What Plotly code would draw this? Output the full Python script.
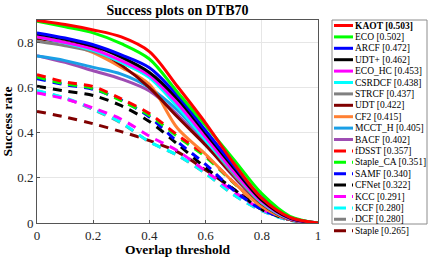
import plotly.graph_objects as go

thresholds = [0, 0.1, 0.2, 0.3, 0.4, 0.5, 0.6, 0.7, 0.8, 0.9, 1.0]

names = ["KAOT [0.503]", "ECO [0.502]", "ARCF [0.472]", "UDT+ [0.462]", "ECO_HC [0.453]",
         "CSRDCF [0.438]", "STRCF [0.437]", "UDT [0.422]", "CF2 [0.415]", "MCCT_H [0.405]",
         "BACF [0.402]", "fDSST [0.357]", "Staple_CA [0.351]", "SAMF [0.340]", "CFNet [0.322]",
         "KCC [0.291]", "KCF [0.280]", "DCF [0.280]", "Staple [0.265]"]

KAOT = [0.898, 0.880, 0.856, 0.825, 0.760, 0.605, 0.443, 0.265, 0.110, 0.025, 0.0]
ECO = [0.895, 0.870, 0.843, 0.795, 0.727, 0.580, 0.432, 0.282, 0.130, 0.030, 0.0]
ARCF = [0.843, 0.820, 0.790, 0.745, 0.688, 0.565, 0.410, 0.255, 0.112, 0.025, 0.0]
UDTp = [0.838, 0.815, 0.785, 0.735, 0.667, 0.550, 0.398, 0.245, 0.102, 0.022, 0.0]
ECO_HC = [0.826, 0.800, 0.770, 0.720, 0.655, 0.530, 0.380, 0.228, 0.095, 0.020, 0.0]
CSRDCF = [0.826, 0.798, 0.765, 0.712, 0.645, 0.515, 0.368, 0.225, 0.090, 0.018, 0.0]
STRCF = [0.806, 0.786, 0.760, 0.712, 0.648, 0.520, 0.370, 0.215, 0.088, 0.018, 0.0]
UDT = [0.818, 0.800, 0.775, 0.700, 0.600, 0.470, 0.345, 0.210, 0.085, 0.016, 0.0]
CF2 = [0.824, 0.800, 0.755, 0.690, 0.615, 0.420, 0.305, 0.180, 0.072, 0.015, 0.0]
MCCT_H = [0.740, 0.720, 0.690, 0.660, 0.600, 0.500, 0.365, 0.215, 0.085, 0.017, 0.0]
BACF = [0.742, 0.712, 0.675, 0.638, 0.585, 0.480, 0.350, 0.205, 0.082, 0.015, 0.0]
fDSST = [0.658, 0.625, 0.605, 0.550, 0.485, 0.390, 0.300, 0.180, 0.075, 0.020, 0.0]
Staple_CA = [0.647, 0.617, 0.596, 0.542, 0.477, 0.383, 0.293, 0.178, 0.075, 0.020, 0.0]
SAMF = [0.640, 0.613, 0.593, 0.545, 0.470, 0.360, 0.260, 0.145, 0.060, 0.015, 0.0]
CFNet = [0.606, 0.585, 0.565, 0.520, 0.450, 0.350, 0.245, 0.150, 0.060, 0.015, 0.0]
KCC = [0.576, 0.550, 0.510, 0.460, 0.385, 0.320, 0.230, 0.140, 0.060, 0.015, 0.0]
KCF = [0.587, 0.555, 0.505, 0.445, 0.360, 0.300, 0.220, 0.125, 0.055, 0.012, 0.0]
DCF = [0.585, 0.553, 0.503, 0.443, 0.360, 0.300, 0.220, 0.125, 0.055, 0.012, 0.0]
Staple = [0.495, 0.470, 0.440, 0.405, 0.365, 0.315, 0.235, 0.150, 0.065, 0.015, 0.0]

series = [KAOT, ECO, ARCF, UDTp, ECO_HC, CSRDCF, STRCF, UDT, CF2, MCCT_H, BACF,
          fDSST, Staple_CA, SAMF, CFNet, KCC, KCF, DCF, Staple]
colors = ["#FF0000", "#00FF00", "#0000FF", "#000000", "#FF00FF", "#00FFFF", "#808080",
          "#800000", "#FF8033", "#1A9FE6", "#9E4DB3",
          "#FF0000", "#00FF00", "#0000FF", "#000000", "#FF00FF", "#00FFFF", "#808080", "#800000"]
dashed = [False] * 11 + [True] * 8

FONT = "Liberation Serif, Times New Roman, serif"

fig = go.Figure()
order = list(range(18, 10, -1)) + list(range(10, -1, -1))
for i in order:
    fig.add_trace(go.Scatter(
        x=thresholds, y=series[i], mode="lines", name=names[i], showlegend=False,
        line=dict(color=colors[i], width=3, shape="spline", smoothing=0.9,
                  dash="9px,7px" if dashed[i] else "solid")))

# manual legend (compact, MATLAB-like)
L, R, T, B = 37, 318, 20, 223
pw, ph = R - L, B - T
def px2x(p): return (p - L) / pw
def py2y(p): return (B - p) / ph

shapes = [dict(type="rect", xref="paper", yref="paper",
               x0=px2x(332), x1=px2x(427), y0=py2y(224), y1=py2y(20),
               line=dict(color="#8c8c8c", width=1), fillcolor="white", layer="above")]
annotations = []
for k, nm in enumerate(names):
    yc = 25.5 + 11.4 * k
    shapes.append(dict(type="line", xref="paper", yref="paper",
                       x0=px2x(334), x1=px2x(353), y0=py2y(yc), y1=py2y(yc),
                       line=dict(color=colors[k], width=3,
                                 dash="12px,6px" if dashed[k] else "solid"),
                       layer="above"))
    annotations.append(dict(xref="paper", yref="paper", x=px2x(353), y=py2y(yc),
                            text=("<b>%s</b>" % nm) if k == 0 else nm, showarrow=False,
                            xanchor="left", yanchor="middle",
                            font=dict(family=FONT, size=9.5, color="black")))

fig.update_layout(
    width=429, height=257,
    margin=dict(l=L, r=429 - R, t=T, b=257 - B, autoexpand=False),
    paper_bgcolor="white", plot_bgcolor="white",
    title=dict(text="<b>Success plots on DTB70</b>", x=(L + R) / 2 / 429, xanchor="center",
               y=1 - 10 / 257, yanchor="middle", yref="container",
               font=dict(family=FONT, size=14, color="black")),
    font=dict(family=FONT, size=13, color="#262626"),
    shapes=shapes, annotations=annotations,
    showlegend=False,
)
fig.update_xaxes(range=[0, 1], tickvals=[0, 0.2, 0.4, 0.6, 0.8, 1],
                 ticktext=["0", "0.2", "0.4", "0.6", "0.8", "1"], automargin=False,
                 showgrid=True, gridcolor="#e6e6e6", gridwidth=1,
                 showline=True, linecolor="#555555", linewidth=1, mirror=True,
                 ticks="inside", ticklen=3, tickcolor="#555555", zeroline=False,
                 tickfont=dict(family=FONT, size=13, color="#262626"),
                 title=dict(text="<b>Overlap threshold</b>", standoff=0,
                            font=dict(family=FONT, size=13.5, color="black")))
fig.update_yaxes(range=[0, 0.9], tickvals=[0, 0.2, 0.4, 0.6, 0.8],
                 ticktext=["0", "0.2", "0.4", "0.6", "0.8"], automargin=False,
                 showgrid=True, gridcolor="#e6e6e6", gridwidth=1,
                 showline=True, linecolor="#555555", linewidth=1, mirror=True,
                 ticks="inside", ticklen=3, tickcolor="#555555", zeroline=False,
                 tickfont=dict(family=FONT, size=13, color="#262626"),
                 title=dict(text="<b>Success rate</b>", standoff=2,
                            font=dict(family=FONT, size=13.5, color="black")))

fig.write_html("out.html", config={"displayModeBar": False},
               post_script="document.body.style.margin='0';document.body.style.padding='0';")
